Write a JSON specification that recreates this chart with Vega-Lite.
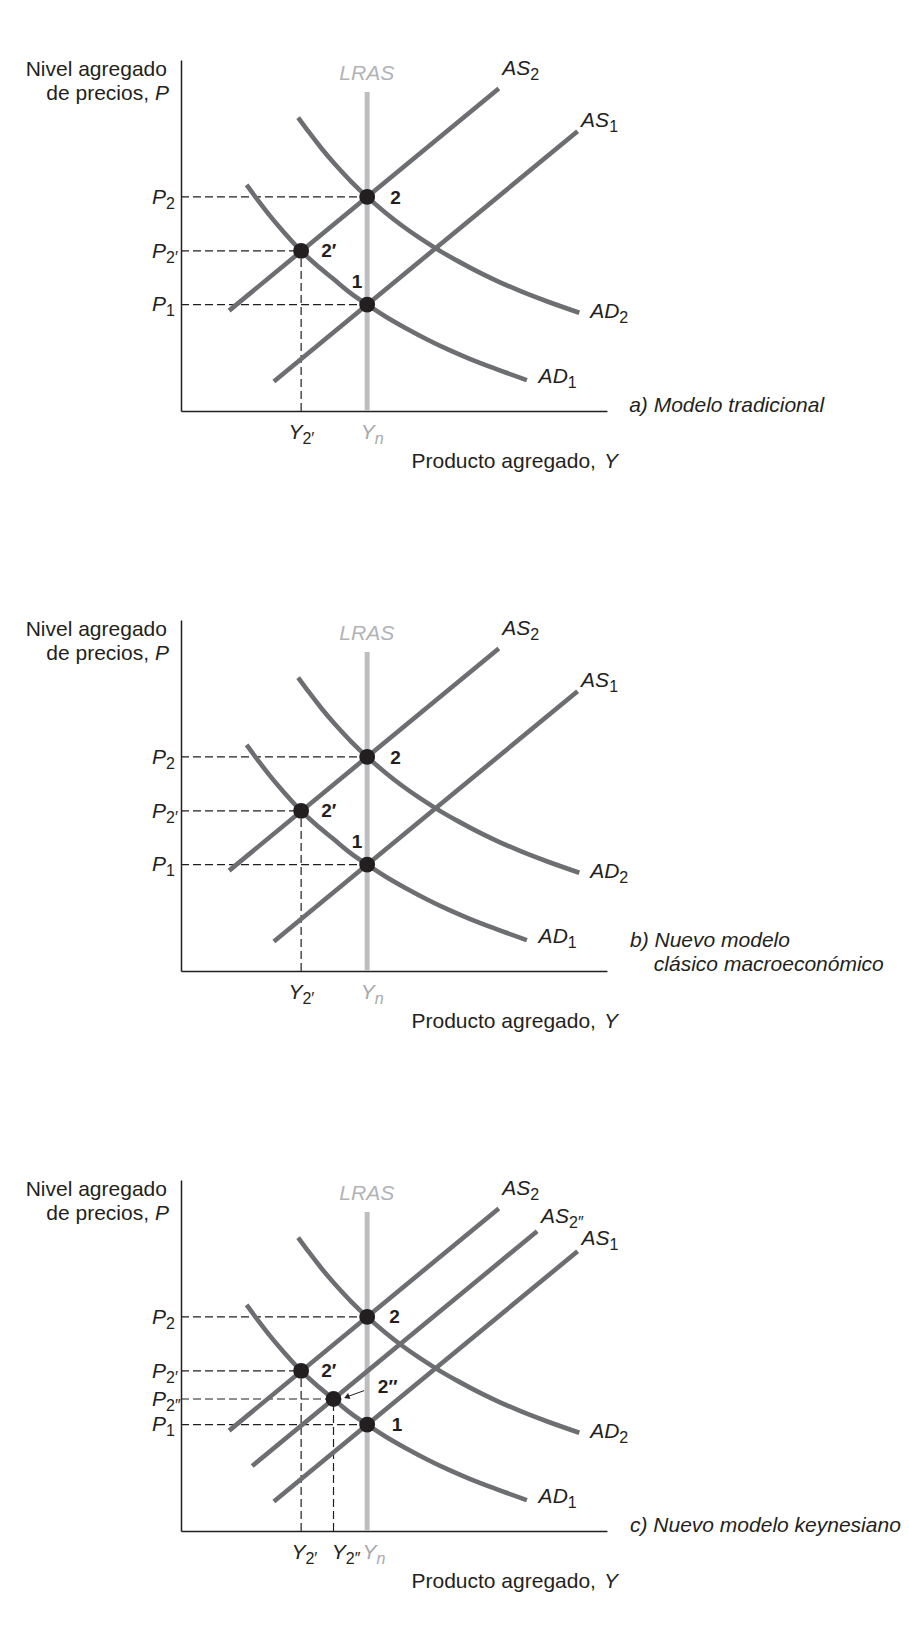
{
  "$schema": "https://vega.github.io/schema/vega-lite/v6.json",
  "background": "white",
  "padding": {"left": 25, "top": 58, "right": 5, "bottom": 5},
  "bounds": "flush",
  "spacing": {"row": 209},
  "data": {"values": [
    {"p":"a","k":"line","s":"AD2","x":27.5,"y":83.6},{"p":"a","k":"line","s":"AD2","x":30,"y":79.5},{"p":"a","k":"line","s":"AD2","x":33,"y":74.8},{"p":"a","k":"line","s":"AD2","x":36,"y":70.5},{"p":"a","k":"line","s":"AD2","x":40,"y":65.3},{"p":"a","k":"line","s":"AD2","x":43.7,"y":61.0},{"p":"a","k":"line","s":"AD2","x":48,"y":56.5},{"p":"a","k":"line","s":"AD2","x":52,"y":52.7},{"p":"a","k":"line","s":"AD2","x":56,"y":49.3},{"p":"a","k":"line","s":"AD2","x":60,"y":46.2},{"p":"a","k":"line","s":"AD2","x":65,"y":42.7},{"p":"a","k":"line","s":"AD2","x":70,"y":39.5},{"p":"a","k":"line","s":"AD2","x":75,"y":36.6},{"p":"a","k":"line","s":"AD2","x":80,"y":34.0},{"p":"a","k":"line","s":"AD2","x":86,"y":31.2},{"p":"a","k":"line","s":"AD2","x":93.5,"y":28.0},
    {"p":"a","k":"line","s":"AD1","x":15.4,"y":64.4},{"p":"a","k":"line","s":"AD1","x":17.9,"y":60.3},{"p":"a","k":"line","s":"AD1","x":20.9,"y":55.6},{"p":"a","k":"line","s":"AD1","x":23.9,"y":51.3},{"p":"a","k":"line","s":"AD1","x":28.2,"y":45.6},{"p":"a","k":"line","s":"AD1","x":31.6,"y":41.8},{"p":"a","k":"line","s":"AD1","x":35.8,"y":37.6},{"p":"a","k":"line","s":"AD1","x":39.9,"y":33.5},{"p":"a","k":"line","s":"AD1","x":43.7,"y":30.3},{"p":"a","k":"line","s":"AD1","x":47.9,"y":27.0},{"p":"a","k":"line","s":"AD1","x":52.9,"y":23.5},{"p":"a","k":"line","s":"AD1","x":57.9,"y":20.3},{"p":"a","k":"line","s":"AD1","x":62.9,"y":17.4},{"p":"a","k":"line","s":"AD1","x":67.9,"y":14.8},{"p":"a","k":"line","s":"AD1","x":73.9,"y":12.0},{"p":"a","k":"line","s":"AD1","x":81.2,"y":8.8},
    {"p":"a","k":"line","s":"AS2","x":11.3,"y":28.6},{"p":"a","k":"line","s":"AS2","x":74.6,"y":91.9},
    {"p":"a","k":"line","s":"AS1","x":21.8,"y":8.4},{"p":"a","k":"line","s":"AS1","x":93.1,"y":79.7},
    {"p":"a","k":"lras","x":43.7,"y":0,"y2":90.9},
    {"p":"a","k":"dash","x":0,"y":61.0,"x2":43.7,"y2":61.0},{"p":"a","k":"dash","x":0,"y":45.6,"x2":28.2,"y2":45.6},{"p":"a","k":"dash","x":0,"y":30.3,"x2":43.7,"y2":30.3},{"p":"a","k":"dash","x":28.2,"y":0,"x2":28.2,"y2":45.6},
    {"p":"a","k":"pt","x":43.7,"y":61.0},{"p":"a","k":"pt","x":28.2,"y":45.6},{"p":"a","k":"pt","x":43.7,"y":30.3},
    {"p":"a","k":"it","x":82.0,"y":95.7,"t":"AS","sub":"2"},{"p":"a","k":"it","x":100.5,"y":80.8,"t":"AS","sub":"1"},{"p":"a","k":"it","x":102.9,"y":26.4,"t":"AD","sub":"2"},{"p":"a","k":"it","x":90.8,"y":7.9,"t":"AD","sub":"1"},
    {"p":"a","k":"it","x":-3.5,"y":59.1,"t":"P","sub":"2"},{"p":"a","k":"it","x":-3.5,"y":43.7,"t":"P","sub":"2′"},{"p":"a","k":"it","x":-3.5,"y":28.4,"t":"P","sub":"1"},
    {"p":"a","k":"it","x":28.5,"y":-8.0,"t":"Y","sub":"2′"},{"p":"a","k":"it","x":45.5,"y":-8.0,"t":"Y","sub":"n","c":"gray"},
    {"p":"a","k":"it","x":-2.8,"y":88.6,"t":"P"},{"p":"a","k":"it","x":102.6,"y":-16.2,"t":"Y"},
    {"p":"a","k":"lt","x":43.6,"y":94.3,"t":"LRAS"},
    {"p":"a","k":"bold","x":49.1,"y":59.1,"t":"2"},{"p":"a","k":"bold","x":32.9,"y":44.0,"t":"2′"},{"p":"a","k":"bold","x":40.1,"y":35.0,"t":"1"},
    {"p":"a","k":"rr","x":-3.3,"y":95.4,"t":"Nivel agregado"},{"p":"a","k":"rr","x":-7.5,"y":88.6,"t":"de precios,"},
    {"p":"a","k":"rl","x":54.1,"y":-16.2,"t":"Producto agregado,"},
    {"p":"a","k":"cap","x":105.2,"y":-0.4,"t":"a) Modelo tradicional"},

    {"p":"b","k":"line","s":"AD2","x":27.5,"y":83.6},{"p":"b","k":"line","s":"AD2","x":30,"y":79.5},{"p":"b","k":"line","s":"AD2","x":33,"y":74.8},{"p":"b","k":"line","s":"AD2","x":36,"y":70.5},{"p":"b","k":"line","s":"AD2","x":40,"y":65.3},{"p":"b","k":"line","s":"AD2","x":43.7,"y":61.0},{"p":"b","k":"line","s":"AD2","x":48,"y":56.5},{"p":"b","k":"line","s":"AD2","x":52,"y":52.7},{"p":"b","k":"line","s":"AD2","x":56,"y":49.3},{"p":"b","k":"line","s":"AD2","x":60,"y":46.2},{"p":"b","k":"line","s":"AD2","x":65,"y":42.7},{"p":"b","k":"line","s":"AD2","x":70,"y":39.5},{"p":"b","k":"line","s":"AD2","x":75,"y":36.6},{"p":"b","k":"line","s":"AD2","x":80,"y":34.0},{"p":"b","k":"line","s":"AD2","x":86,"y":31.2},{"p":"b","k":"line","s":"AD2","x":93.5,"y":28.0},
    {"p":"b","k":"line","s":"AD1","x":15.4,"y":64.4},{"p":"b","k":"line","s":"AD1","x":17.9,"y":60.3},{"p":"b","k":"line","s":"AD1","x":20.9,"y":55.6},{"p":"b","k":"line","s":"AD1","x":23.9,"y":51.3},{"p":"b","k":"line","s":"AD1","x":28.2,"y":45.6},{"p":"b","k":"line","s":"AD1","x":31.6,"y":41.8},{"p":"b","k":"line","s":"AD1","x":35.8,"y":37.6},{"p":"b","k":"line","s":"AD1","x":39.9,"y":33.5},{"p":"b","k":"line","s":"AD1","x":43.7,"y":30.3},{"p":"b","k":"line","s":"AD1","x":47.9,"y":27.0},{"p":"b","k":"line","s":"AD1","x":52.9,"y":23.5},{"p":"b","k":"line","s":"AD1","x":57.9,"y":20.3},{"p":"b","k":"line","s":"AD1","x":62.9,"y":17.4},{"p":"b","k":"line","s":"AD1","x":67.9,"y":14.8},{"p":"b","k":"line","s":"AD1","x":73.9,"y":12.0},{"p":"b","k":"line","s":"AD1","x":81.2,"y":8.8},
    {"p":"b","k":"line","s":"AS2","x":11.3,"y":28.6},{"p":"b","k":"line","s":"AS2","x":74.6,"y":91.9},
    {"p":"b","k":"line","s":"AS1","x":21.8,"y":8.4},{"p":"b","k":"line","s":"AS1","x":93.1,"y":79.7},
    {"p":"b","k":"lras","x":43.7,"y":0,"y2":90.9},
    {"p":"b","k":"dash","x":0,"y":61.0,"x2":43.7,"y2":61.0},{"p":"b","k":"dash","x":0,"y":45.6,"x2":28.2,"y2":45.6},{"p":"b","k":"dash","x":0,"y":30.3,"x2":43.7,"y2":30.3},{"p":"b","k":"dash","x":28.2,"y":0,"x2":28.2,"y2":45.6},
    {"p":"b","k":"pt","x":43.7,"y":61.0},{"p":"b","k":"pt","x":28.2,"y":45.6},{"p":"b","k":"pt","x":43.7,"y":30.3},
    {"p":"b","k":"it","x":82.0,"y":95.7,"t":"AS","sub":"2"},{"p":"b","k":"it","x":100.5,"y":80.8,"t":"AS","sub":"1"},{"p":"b","k":"it","x":102.9,"y":26.4,"t":"AD","sub":"2"},{"p":"b","k":"it","x":90.8,"y":7.9,"t":"AD","sub":"1"},
    {"p":"b","k":"it","x":-3.5,"y":59.1,"t":"P","sub":"2"},{"p":"b","k":"it","x":-3.5,"y":43.7,"t":"P","sub":"2′"},{"p":"b","k":"it","x":-3.5,"y":28.4,"t":"P","sub":"1"},
    {"p":"b","k":"it","x":28.5,"y":-8.0,"t":"Y","sub":"2′"},{"p":"b","k":"it","x":45.5,"y":-8.0,"t":"Y","sub":"n","c":"gray"},
    {"p":"b","k":"it","x":-2.8,"y":88.6,"t":"P"},{"p":"b","k":"it","x":102.6,"y":-16.2,"t":"Y"},
    {"p":"b","k":"lt","x":43.6,"y":94.3,"t":"LRAS"},
    {"p":"b","k":"bold","x":49.1,"y":59.1,"t":"2"},{"p":"b","k":"bold","x":32.9,"y":44.0,"t":"2′"},{"p":"b","k":"bold","x":40.1,"y":35.0,"t":"1"},
    {"p":"b","k":"rr","x":-3.3,"y":95.4,"t":"Nivel agregado"},{"p":"b","k":"rr","x":-7.5,"y":88.6,"t":"de precios,"},
    {"p":"b","k":"rl","x":54.1,"y":-16.2,"t":"Producto agregado,"},
    {"p":"b","k":"cap","x":105.4,"y":6.8,"t":"b) Nuevo modelo"},{"p":"b","k":"cap","x":111.0,"y":-0.1,"t":"clásico macroeconómico"},

    {"p":"c","k":"line","s":"AD2","x":27.5,"y":83.6},{"p":"c","k":"line","s":"AD2","x":30,"y":79.5},{"p":"c","k":"line","s":"AD2","x":33,"y":74.8},{"p":"c","k":"line","s":"AD2","x":36,"y":70.5},{"p":"c","k":"line","s":"AD2","x":40,"y":65.3},{"p":"c","k":"line","s":"AD2","x":43.7,"y":61.0},{"p":"c","k":"line","s":"AD2","x":48,"y":56.5},{"p":"c","k":"line","s":"AD2","x":52,"y":52.7},{"p":"c","k":"line","s":"AD2","x":56,"y":49.3},{"p":"c","k":"line","s":"AD2","x":60,"y":46.2},{"p":"c","k":"line","s":"AD2","x":65,"y":42.7},{"p":"c","k":"line","s":"AD2","x":70,"y":39.5},{"p":"c","k":"line","s":"AD2","x":75,"y":36.6},{"p":"c","k":"line","s":"AD2","x":80,"y":34.0},{"p":"c","k":"line","s":"AD2","x":86,"y":31.2},{"p":"c","k":"line","s":"AD2","x":93.5,"y":28.0},
    {"p":"c","k":"line","s":"AD1","x":15.4,"y":64.4},{"p":"c","k":"line","s":"AD1","x":17.9,"y":60.3},{"p":"c","k":"line","s":"AD1","x":20.9,"y":55.6},{"p":"c","k":"line","s":"AD1","x":23.9,"y":51.3},{"p":"c","k":"line","s":"AD1","x":28.2,"y":45.6},{"p":"c","k":"line","s":"AD1","x":31.6,"y":41.8},{"p":"c","k":"line","s":"AD1","x":35.8,"y":37.6},{"p":"c","k":"line","s":"AD1","x":39.9,"y":33.5},{"p":"c","k":"line","s":"AD1","x":43.7,"y":30.3},{"p":"c","k":"line","s":"AD1","x":47.9,"y":27.0},{"p":"c","k":"line","s":"AD1","x":52.9,"y":23.5},{"p":"c","k":"line","s":"AD1","x":57.9,"y":20.3},{"p":"c","k":"line","s":"AD1","x":62.9,"y":17.4},{"p":"c","k":"line","s":"AD1","x":67.9,"y":14.8},{"p":"c","k":"line","s":"AD1","x":73.9,"y":12.0},{"p":"c","k":"line","s":"AD1","x":81.2,"y":8.8},
    {"p":"c","k":"line","s":"AS2","x":11.3,"y":28.6},{"p":"c","k":"line","s":"AS2","x":74.6,"y":91.9},
    {"p":"c","k":"line","s":"AS2pp","x":16.7,"y":18.5},{"p":"c","k":"line","s":"AS2pp","x":83.6,"y":85.4},
    {"p":"c","k":"line","s":"AS1","x":21.8,"y":8.4},{"p":"c","k":"line","s":"AS1","x":93.1,"y":79.7},
    {"p":"c","k":"lras","x":43.7,"y":0,"y2":90.9},
    {"p":"c","k":"dash","x":0,"y":61.0,"x2":43.7,"y2":61.0},{"p":"c","k":"dash","x":0,"y":45.6,"x2":28.2,"y2":45.6},{"p":"c","k":"dash","x":0,"y":37.6,"x2":35.8,"y2":37.6},{"p":"c","k":"dash","x":0,"y":30.3,"x2":43.7,"y2":30.3},{"p":"c","k":"dash","x":28.2,"y":0,"x2":28.2,"y2":45.6},{"p":"c","k":"dash","x":35.8,"y":0,"x2":35.8,"y2":37.6},
    {"p":"c","k":"pt","x":43.7,"y":61.0},{"p":"c","k":"pt","x":28.2,"y":45.6},{"p":"c","k":"pt","x":35.8,"y":37.6},{"p":"c","k":"pt","x":43.7,"y":30.3},
    {"p":"c","k":"arr","x":43.0,"y":40.0,"x2":38.9,"y2":38.2},{"p":"c","k":"head","x":38.9,"y":38.2},
    {"p":"c","k":"it","x":82.0,"y":95.7,"t":"AS","sub":"2"},{"p":"c","k":"it","x":91.1,"y":87.8,"t":"AS","sub":"2″"},{"p":"c","k":"it","x":100.6,"y":81.5,"t":"AS","sub":"1"},{"p":"c","k":"it","x":102.9,"y":26.4,"t":"AD","sub":"2"},{"p":"c","k":"it","x":90.8,"y":7.9,"t":"AD","sub":"1"},
    {"p":"c","k":"it","x":-3.5,"y":59.1,"t":"P","sub":"2"},{"p":"c","k":"it","x":-3.5,"y":43.7,"t":"P","sub":"2′"},{"p":"c","k":"it","x":-3.5,"y":35.7,"t":"P","sub":"2″"},{"p":"c","k":"it","x":-3.5,"y":28.4,"t":"P","sub":"1"},
    {"p":"c","k":"it","x":29.2,"y":-8.0,"t":"Y","sub":"2′"},{"p":"c","k":"it","x":38.7,"y":-8.0,"t":"Y","sub":"2″"},{"p":"c","k":"it","x":45.9,"y":-8.0,"t":"Y","sub":"n","c":"gray"},
    {"p":"c","k":"it","x":-2.8,"y":88.6,"t":"P"},{"p":"c","k":"it","x":102.6,"y":-16.2,"t":"Y"},
    {"p":"c","k":"lt","x":43.6,"y":94.3,"t":"LRAS"},
    {"p":"c","k":"bold","x":48.9,"y":59.3,"t":"2"},{"p":"c","k":"bold","x":32.9,"y":44.0,"t":"2′"},{"p":"c","k":"bold","x":46.2,"y":39.4,"t":"2″"},{"p":"c","k":"bold","x":49.5,"y":28.5,"t":"1"},
    {"p":"c","k":"rr","x":-3.3,"y":95.4,"t":"Nivel agregado"},{"p":"c","k":"rr","x":-7.5,"y":88.6,"t":"de precios,"},
    {"p":"c","k":"rl","x":54.1,"y":-16.2,"t":"Producto agregado,"},
    {"p":"c","k":"cap","x":105.4,"y":-0.3,"t":"c) Nuevo modelo keynesiano"}
  ]},
  "facet": {"row": {"field": "p", "type": "nominal", "title": null, "header": {"labels": false, "title": null}}},
  "resolve": {"axis": {"x": "independent"}},
  "spec": {
    "width": 426,
    "height": 351,
    "encoding": {
      "x": {"field": "x", "type": "quantitative", "title": null, "scale": {"domain": [0, 100], "nice": false, "zero": false}},
      "y": {"field": "y", "type": "quantitative", "title": null, "scale": {"domain": [0, 100], "nice": false, "zero": false}}
    },
    "layer": [
      {"transform": [{"filter": "datum.k === 'dash'"}],
       "mark": {"type": "rule", "color": "#231f20", "strokeWidth": 1.2, "strokeDash": [8, 4]},
       "encoding": {"x2": {"field": "x2"}, "y2": {"field": "y2"}}},
      {"transform": [{"filter": "datum.k === 'lras'"}],
       "mark": {"type": "rule", "color": "#bcbec0", "strokeWidth": 5},
       "encoding": {"y2": {"field": "y2"}}},
      {"transform": [{"filter": "datum.k === 'line'"}],
       "mark": {"type": "line", "color": "#6d6e71", "strokeWidth": 4.6, "interpolate": "monotone", "strokeCap": "butt"},
       "encoding": {"detail": {"field": "s", "type": "nominal"}}},
      {"transform": [{"filter": "datum.k === 'arr'"}],
       "mark": {"type": "rule", "color": "#231f20", "strokeWidth": 1},
       "encoding": {"x2": {"field": "x2"}, "y2": {"field": "y2"}}},
      {"transform": [{"filter": "datum.k === 'head'"}],
       "mark": {"type": "point", "shape": "triangle-left", "filled": true, "color": "#231f20", "size": 40, "angle": 339, "opacity": 1}},
      {"transform": [{"filter": "datum.k === 'pt'"}],
       "mark": {"type": "circle", "size": 250, "color": "#231f20", "opacity": 1}},
      {"transform": [{"filter": "datum.k === 'it'"}],
       "mark": {"type": "text", "align": "right", "baseline": "alphabetic", "fontStyle": "italic", "fontSize": 21},
       "encoding": {"text": {"field": "t"}, "color": {"condition": {"test": "datum.c === 'gray'", "value": "#a7a9ac"}, "value": "#231f20"}}},
      {"transform": [{"filter": "datum.k === 'it' && datum.sub && datum.sub !== 'n'"}],
       "mark": {"type": "text", "align": "left", "baseline": "alphabetic", "fontSize": 16, "dy": 5, "color": "#231f20"},
       "encoding": {"text": {"field": "sub"}}},
      {"transform": [{"filter": "datum.k === 'it' && datum.sub === 'n'"}],
       "mark": {"type": "text", "align": "left", "baseline": "alphabetic", "fontSize": 16, "fontStyle": "italic", "dy": 5, "color": "#a7a9ac"},
       "encoding": {"text": {"field": "sub"}}},
      {"transform": [{"filter": "datum.k === 'lt'"}],
       "mark": {"type": "text", "align": "center", "baseline": "alphabetic", "fontStyle": "italic", "fontSize": 21, "color": "#b1b3b6"},
       "encoding": {"text": {"field": "t"}}},
      {"transform": [{"filter": "datum.k === 'bold'"}],
       "mark": {"type": "text", "align": "left", "baseline": "alphabetic", "fontWeight": "bold", "fontSize": 19, "color": "#231f20"},
       "encoding": {"text": {"field": "t"}}},
      {"transform": [{"filter": "datum.k === 'rr'"}],
       "mark": {"type": "text", "align": "right", "baseline": "alphabetic", "fontSize": 21, "color": "#231f20"},
       "encoding": {"text": {"field": "t"}}},
      {"transform": [{"filter": "datum.k === 'rl'"}],
       "mark": {"type": "text", "align": "left", "baseline": "alphabetic", "fontSize": 21, "color": "#231f20"},
       "encoding": {"text": {"field": "t"}}},
      {"transform": [{"filter": "datum.k === 'cap'"}],
       "mark": {"type": "text", "align": "left", "baseline": "alphabetic", "fontStyle": "italic", "fontSize": 21, "color": "#231f20"},
       "encoding": {"text": {"field": "t"}}}
    ]
  },
  "config": {
    "font": "Liberation Sans",
    "view": {"stroke": null},
    "axis": {"labels": false, "ticks": false, "grid": false, "domainColor": "#231f20", "domainWidth": 1.5}
  }
}
